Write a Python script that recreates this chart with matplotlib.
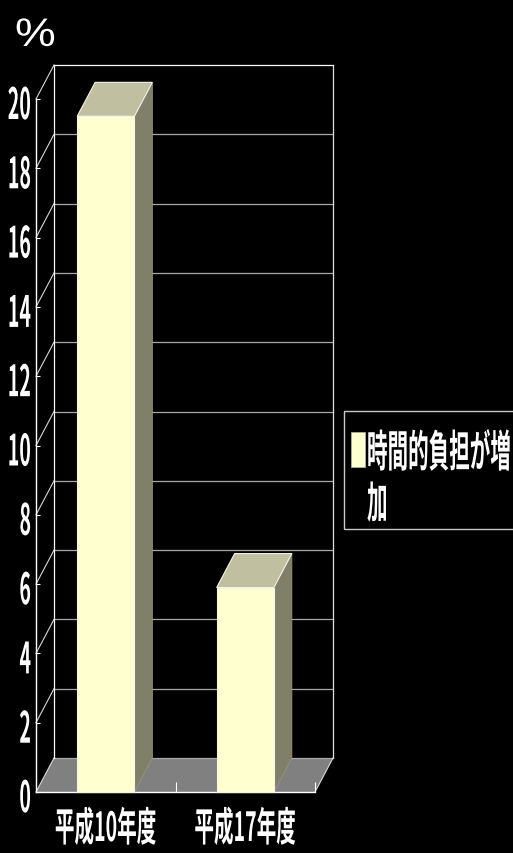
import matplotlib
matplotlib.use("Agg")
import matplotlib.pyplot as plt
from matplotlib.text import Text
from matplotlib.patches import Polygon, Rectangle
from matplotlib.patheffects import AbstractPathEffect
from matplotlib.path import Path
from matplotlib.transforms import Affine2D, Bbox, ScaledTranslation

# ---- data -------------------------------------------------------------
categories = ["平成10年度", "平成17年度"]
values = [19.5, 5.9]
y_ticks = [0, 2, 4, 6, 8, 10, 12, 14, 16, 18, 20]
y_tick_labels = [str(t) for t in y_ticks]
series_name = "時間的負担が増\n加"
unit_label = "%"

# ---- style ------------------------------------------------------------
W, H, DPI = 513, 854, 100
FRONT = "#ffffd0"
TOP = "#c0c0a0"
SIDE = "#808068"
FLOOR = "#808080"
GRID = "#a8a8a8"
JP = ["Noto Sans CJK JP", "DejaVu Sans"]


class Stretch(AbstractPathEffect):
    """Scale glyph outlines (x around an anchor, y around the baseline)."""

    def __init__(self, sx, sy, anchor):
        super().__init__()
        self._sx = sx
        self._sy = sy
        self._anchor = anchor

    def draw_path(self, renderer, gc, tpath, affine, rgbFace=None):
        v = tpath.vertices
        if tpath.codes is not None:
            keep = (tpath.codes != Path.CLOSEPOLY) & (tpath.codes != Path.STOP)
            v = v[keep]
        if len(v) == 0:
            renderer.draw_path(gc, tpath, affine, rgbFace)
            return
        lo, hi = v[:, 0].min(), v[:, 0].max()
        a = {"left": 0.0, "right": hi, "center": 0.5 * (lo + hi)}[self._anchor]
        t = (Affine2D().translate(-a, 0).scale(self._sx, self._sy)
             .translate(a, 0) + affine)
        renderer.draw_path(gc, tpath, t, rgbFace)


class StretchedText(Text):
    """Text whose glyphs are drawn taller/narrower than the nominal font."""

    def __init__(self, *args, sx=1.0, sy=1.0, **kwargs):
        super().__init__(*args, **kwargs)
        self._sx = sx
        self.set_path_effects([Stretch(sx, sy, self.get_horizontalalignment())])

    def get_window_extent(self, renderer=None, dpi=None):
        bb = super().get_window_extent(renderer, dpi)
        ha = self.get_horizontalalignment()
        w = bb.width * self._sx
        if ha == "left":
            x0 = bb.x0
        elif ha == "right":
            x0 = bb.x1 - w
        else:
            x0 = bb.x0 + 0.5 * (bb.width - w)
        return Bbox.from_bounds(x0, bb.y0, w, bb.height)


fig = plt.figure(figsize=(W / DPI, H / DPI), dpi=DPI, facecolor="black")


def fx(px):
    return px / W


def fy(py):
    return 1.0 - py / H


def offset(dx_px, dy_px):
    return ScaledTranslation(dx_px / DPI, dy_px / DPI, fig.dpi_scale_trans)


def add_text(x, y, s, transform, ha, size, sx=1.0, sy=1.0, family=JP,
             weight="bold", **kw):
    t = StretchedText(x, y, s, sx=sx, sy=sy, horizontalalignment=ha,
                      verticalalignment="baseline", transform=transform,
                      color="white", fontsize=size, family=family,
                      fontweight=weight, **kw)
    fig.add_artist(t)
    return t


# front plane of the plot box
ax = fig.add_axes([fx(36), fy(793), 279 / W, 693 / H])
ax.set_facecolor("none")
ax.set_xlim(0, len(categories))
ax.set_ylim(y_ticks[0], y_ticks[-1])
ax.set_yticks(y_ticks)
ax.set_xticks(range(1, len(categories) + 1))
ax.tick_params(axis="y", direction="in", length=3, width=0.8, color="white",
               labelleft=False)
ax.tick_params(axis="x", direction="in", length=7, width=0.8, color="white",
               labelbottom=False)
for side in ("top", "right"):
    ax.spines[side].set_visible(False)
for side in ("left", "bottom"):
    ax.spines[side].set_color("white")
    ax.spines[side].set_linewidth(1.0)

# depth of the box (18 px right, 34 px up) expressed in data units
p0 = ax.transData.transform((0.0, y_ticks[0]))
ddx, ddy = ax.transData.inverted().transform(p0 + (18.0, 34.0))
ddy -= y_ticks[0]

x_end = len(categories)
y_top = y_ticks[-1]

# floor
ax.add_patch(Polygon([(0, 0), (x_end, 0), (x_end + ddx, ddy), (ddx, ddy)],
                     closed=True, facecolor=FLOOR, edgecolor="none",
                     zorder=0.5, clip_on=False))
ax.plot([x_end, x_end + ddx], [0, ddy], color="#d8d8d8", lw=0.8,
        zorder=0.7, clip_on=False)

# back wall gridlines and left wall diagonals
for t in y_ticks:
    ax.plot([ddx, x_end + ddx], [t + ddy, t + ddy],
            color="white" if t == y_top else GRID, lw=0.9,
            zorder=0.6, clip_on=False)
    ax.plot([0, ddx], [t, t + ddy], color="#d8d8d8", lw=0.8,
            zorder=0.6, clip_on=False)
ax.plot([ddx, ddx], [ddy, y_top + ddy], color="white", lw=0.9,
        zorder=0.6, clip_on=False)
ax.plot([x_end + ddx, x_end + ddx], [ddy, y_top + ddy], color="#e0e0e0",
        lw=0.9, zorder=0.6, clip_on=False)

# 3D bars: side and top faces behind the front face drawn by ax.bar
bar_w = 0.41
centers = [i + 0.5 for i in range(len(categories))]
for c, v in zip(centers, values):
    l, r = c - bar_w / 2, c + bar_w / 2
    ax.add_patch(Polygon([(r, 0), (r + ddx, ddy), (r + ddx, v + ddy), (r, v)],
                         closed=True, facecolor=SIDE, edgecolor="#96967e",
                         lw=0.6, zorder=2.6, clip_on=False))
    ax.add_patch(Polygon([(l, v), (r, v), (r + ddx, v + ddy), (l + ddx, v + ddy)],
                         closed=True, facecolor=TOP, edgecolor="#f4f4e8",
                         lw=0.8, zorder=2.7, clip_on=False))
bars = ax.bar(centers, values, width=bar_w, color=FRONT, edgecolor="#f4f4e8",
              linewidth=0.8, zorder=2.8, clip_on=False)

# y tick labels (right edge 5 px left of the axis, baseline 20 px below tick)
ytrans = ax.get_yaxis_transform() + offset(-5, -20)
for t, lab in zip(y_ticks, y_tick_labels):
    add_text(0, t, lab, ytrans, "right", 14.1, sy=2.2)

# category labels
xtrans = ax.get_xaxis_transform() + offset(0, -49)
for c, lab in zip(centers, categories):
    add_text(c, 0, lab, xtrans, "center", 14.1, sy=2.05)

# unit label
add_text(fx(15), fy(47), unit_label, fig.transFigure, "left", 33, sy=0.87,
         family=["Liberation Sans", "DejaVu Sans"], weight="normal")

# legend box
fig.add_artist(Rectangle((fx(344), fy(530)), (540 - 344) / W, 118 / H,
                         transform=fig.transFigure, fill=False,
                         edgecolor="#c8c8c8", lw=1.0))
fig.add_artist(Rectangle((fx(351), fy(468)), 14 / W, 35 / H,
                         transform=fig.transFigure,
                         facecolor=bars.patches[0].get_facecolor(),
                         edgecolor="#b0b090", lw=0.6))
add_text(fx(367), fy(519), series_name, fig.transFigure, "left", 14.8,
         sy=2.13, linespacing=2.78)

fig.savefig("out.png", dpi=DPI, facecolor="black")
